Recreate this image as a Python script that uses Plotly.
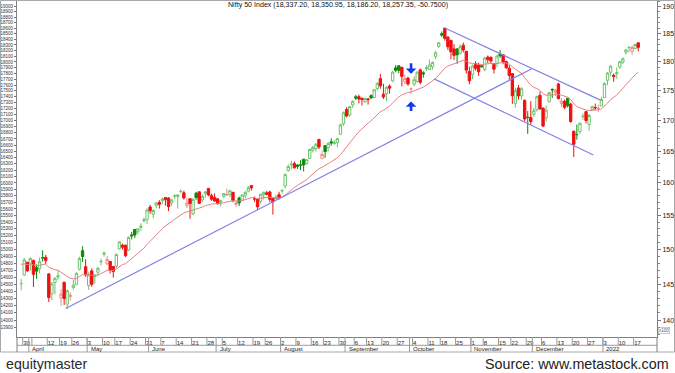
import numpy as np
import pandas as pd
import plotly.graph_objects as go

# ---------------- data ----------------
first_day = "2021-03-26"
last_day = "2022-01-18"
nse_holidays = ["2021-03-29", "2021-04-02", "2021-04-14", "2021-04-21", "2021-05-13",
                "2021-07-21", "2021-08-19", "2021-09-10", "2021-10-15", "2021-11-05",
                "2021-11-19"]

opens = [
    14506.3, 14628.5, 14811.85,
    14798.4, 14837.7, 14737.0, 14716.45, 14875.65, 14882.65, 14644.65, 14364.9, 14522.4, 14599.6,
    14306.6, 14526.95, 14219.15, 14326.8, 14449.45, 14493.8, 14710.5, 14979.0, 14747.35,
    14481.05, 14687.25, 14604.15, 14668.35, 14816.85, 14928.25, 14789.85, 14823.15, 14749.4, 14756.25,
    15005.8, 15058.6, 15058.6, 14987.8, 15211.35, 15291.75, 15257.1, 15323.95, 15421.2, 15437.75,
    15629.65, 15520.3, 15655.55, 15700.3, 15725.1, 15773.55, 15766.3, 15692.1, 15796.45, 15791.4, 15866.95,
    15847.5, 15648.3, 15756.5, 15525.85, 15840.65, 15862.8, 15737.75, 15839.35, 15915.35, 15807.5, 15776.9,
    15755.05, 15705.85, 15793.4, 15813.75, 15819.6, 15855.4, 15672.05, 15766.8, 15733.4, 15808.65, 15872.6,
    15958.75, 15754.5, 15746.45, 15716.95, 15819.7, 15846.7, 15860.35, 15761.5, 15762.75, 15817.05,
    15874.9, 15951.55, 16195.25, 16288.85, 16304.4, 16281.75, 16283.1, 16374.05, 16303.65, 16385.7, 16518.4,
    16545.25, 16691.95, 16382.5, 16592.25, 16561.4, 16654.0, 16627.95, 16642.55, 16775.85, 16947.5,
    17185.6, 17095.4, 17262.45, 17399.35, 17401.55, 17375.75, 17312.85, 17363.55, 17420.4, 17387.65, 17539.2,
    17709.65, 17443.85, 17450.5, 17580.9, 17670.85, 17897.45, 17932.2, 17906.45, 17657.95, 17718.9,
    17531.9, 17615.55, 17661.35, 17861.5, 17810.55, 17886.85, 17867.55, 17915.8, 18097.85, 18272.85,
    18500.1, 18602.35, 18439.9, 18382.7, 18230.3, 18229.5, 18154.5, 18295.85, 18187.65, 17833.55,
    17783.15, 17970.9, 17947.55, 17935.05, 17867.55, 18084.35, 18084.0, 17967.45, 17977.6, 18140.95,
    18127.05, 18007.05, 17890.55, 17796.25, 17281.75, 17550.05, 17417.3, 17338.75, 17055.8, 17051.15,
    17104.4, 17183.2, 17424.9, 17209.05, 17044.1, 17315.25, 17524.4, 17476.05, 17619.1, 17283.2, 17323.65,
    17374.75, 17276.0, 16824.25, 16773.15, 16819.1, 17066.8, 17149.5, 16937.75, 17177.6, 17220.1, 17201.45, 17244.5,
    17387.15, 17681.4, 17820.1, 17768.5, 17797.6, 17913.3, 17997.75, 18170.4, 18257.0, 18185.0, 18235.65, 18337.2,
]
highs = [
    14572.9, 14876.3, 14813.75,
    14883.2, 14849.85, 14779.1, 14879.8, 14984.15, 14918.45, 14652.5, 14528.9, 14597.55, 14697.7,
    14429.35, 14527.45, 14424.75, 14383.3, 14557.5, 14667.55, 14890.25, 15044.35, 14855.45,
    14673.85, 14723.4, 14637.9, 14743.9, 14863.05, 14966.9, 14900.6, 14824.05, 14749.65, 14938.2,
    15116.7, 15082.8, 15069.8, 15189.7, 15256.25, 15293.85, 15305.15, 15384.55, 15469.65, 15606.35,
    15660.75, 15597.45, 15705.1, 15733.6, 15773.45, 15778.8, 15778.6, 15751.3, 15823.05, 15823.6, 15901.6,
    15880.85, 15769.35, 15761.5, 15765.15, 15862.95, 15862.95, 15821.4, 15870.8, 15915.65, 15835.9, 15839.1,
    15755.55, 15738.35, 15845.95, 15914.2, 15893.55, 15855.4, 15729.3, 15789.25, 15820.8, 15877.35, 15952.35,
    15962.25, 15789.3, 15749.3, 15834.85, 15862.8, 15878.25, 15880.05, 15767.5, 15817.35, 15862.8,
    15892.9, 16146.9, 16290.2, 16349.45, 16336.75, 16296.75, 16359.25, 16375.5, 16375.9, 16543.6, 16589.4,
    16628.55, 16701.85, 16509.55, 16592.5, 16647.9, 16712.45, 16683.7, 16722.05, 16951.5, 17153.5,
    17225.75, 17245.5, 17340.1, 17429.55, 17436.5, 17383.25, 17379.65, 17378.35, 17438.55, 17532.7, 17644.6,
    17792.95, 17622.75, 17578.35, 17610.25, 17843.9, 17947.65, 17943.5, 17912.85, 17781.75, 17742.15,
    17557.15, 17750.9, 17833.45, 17884.6, 17838.9, 17941.85, 18041.95, 18008.65, 18197.8, 18350.75,
    18543.15, 18604.45, 18458.3, 18384.25, 18314.25, 18241.4, 18310.45, 18342.4, 18190.7, 17915.85,
    17954.1, 18012.25, 17988.75, 17947.4, 18087.8, 18112.6, 18092.0, 17971.35, 18123.0, 18210.15,
    18132.65, 18022.65, 17945.6, 17805.25, 17553.7, 17600.6, 17564.35, 17355.4, 17160.7, 17324.65,
    17213.05, 17420.35, 17489.8, 17216.75, 17251.65, 17484.6, 17543.25, 17534.35, 17639.5, 17376.2, 17351.7,
    17376.9, 17298.15, 16840.1, 16936.4, 16971.0, 17118.65, 17155.6, 17112.05, 17250.25, 17285.95, 17264.05, 17400.8,
    17646.65, 17827.6, 17944.7, 17797.95, 17905.0, 18017.45, 18081.0, 18227.95, 18272.25, 18286.95, 18321.55, 18350.95,
]
lows = [
    14414.25, 14617.6, 14670.25,
    14692.45, 14459.5, 14573.9, 14649.85, 14821.1, 14785.65, 14248.7, 14274.9, 14353.2, 14559.0,
    14191.4, 14207.3, 14151.4, 14273.3, 14421.3, 14484.85, 14694.95, 14814.45, 14601.7,
    14416.25, 14461.5, 14506.6, 14611.5, 14765.5, 14892.5, 14772.35, 14649.85, 14591.9, 14725.15,
    14998.15, 14992.65, 14884.9, 14973.65, 15145.5, 15163.4, 15221.35, 15272.5, 15394.75, 15374.0,
    15528.3, 15459.85, 15611.0, 15606.35, 15678.1, 15650.5, 15566.65, 15648.5, 15747.25, 15606.5, 15842.4,
    15742.6, 15616.75, 15450.9, 15505.65, 15739.5, 15673.95, 15702.7, 15772.3, 15792.15, 15724.05, 15708.75,
    15667.05, 15635.95, 15762.05, 15801.0, 15779.7, 15702.4, 15632.75, 15644.75, 15728.5, 15764.8, 15855.45,
    15882.6, 15707.45, 15578.7, 15679.15, 15744.85, 15809.5, 15701.25, 15513.45, 15737.5, 15744.5,
    15834.65, 15914.35, 16176.15, 16210.3, 16223.3, 16220.65, 16202.25, 16179.55, 16286.9, 16376.3, 16480.75,
    16495.4, 16535.85, 16376.85, 16395.7, 16495.3, 16589.4, 16603.4, 16565.45, 16764.85, 16915.85,
    17055.05, 17059.7, 17212.2, 17345.55, 17287.0, 17254.2, 17302.7, 17269.15, 17367.05, 17386.9, 17510.45,
    17537.65, 17361.8, 17326.1, 17452.75, 17646.55, 17819.4, 17802.9, 17576.1, 17608.15, 17585.35,
    17452.9, 17581.35, 17640.9, 17613.15, 17724.85, 17840.35, 17864.95, 17864.95, 18050.75, 18248.7,
    18445.3, 18377.7, 18209.35, 18048.15, 18034.35, 17968.5, 18131.7, 18167.65, 17799.45, 17613.1,
    17697.2, 17847.6, 17757.95, 17900.5, 17836.1, 17983.05, 17967.0, 17798.2, 17905.9, 18071.3,
    17958.8, 17879.25, 17688.5, 17280.45, 17216.1, 17354.0, 17351.7, 16985.7, 16782.4, 16931.4,
    17064.25, 17149.3, 17180.8, 16891.7, 16987.75, 17308.95, 17379.6, 17419.2, 17355.95, 17225.8, 17192.2,
    17219.45, 16966.45, 16410.2, 16688.25, 16779.85, 17015.55, 16954.45, 16833.2, 17161.15, 17176.65, 17146.35, 17238.5,
    17383.3, 17593.55, 17748.85, 17655.55, 17704.55, 17879.15, 17964.4, 18128.8, 18163.8, 18119.65, 18228.75, 18186.2,
]
closes = [
    14507.3, 14845.1, 14690.7,
    14867.35, 14637.8, 14683.5, 14819.05, 14873.8, 14834.85, 14310.8, 14504.8, 14581.45, 14617.85,
    14359.45, 14296.4, 14406.15, 14341.35, 14485.0, 14653.05, 14864.55, 14894.9, 14631.1,
    14634.15, 14496.5, 14617.85, 14724.8, 14823.15, 14942.35, 14850.75, 14696.5, 14677.8, 14923.15,
    15108.1, 15030.15, 14906.05, 15175.3, 15197.7, 15208.45, 15301.45, 15337.85, 15435.65, 15582.8,
    15574.85, 15576.2, 15690.35, 15670.25, 15751.65, 15740.1, 15635.35, 15737.75, 15799.35, 15811.85, 15869.25,
    15767.55, 15691.4, 15683.35, 15746.5, 15772.75, 15686.95, 15790.45, 15860.35, 15814.7, 15748.45, 15721.5,
    15680.0, 15722.2, 15834.35, 15818.25, 15879.65, 15727.9, 15689.8, 15692.6, 15812.35, 15853.95, 15924.2,
    15923.4, 15752.4, 15632.1, 15824.05, 15856.05, 15824.45, 15746.45, 15709.4, 15778.45, 15763.05,
    15885.15, 16130.75, 16258.8, 16294.6, 16238.2, 16258.25, 16280.1, 16282.25, 16364.4, 16529.1, 16563.05,
    16614.6, 16568.85, 16450.5, 16496.45, 16624.6, 16634.65, 16636.9, 16705.2, 16931.05, 17132.2,
    17076.25, 17234.15, 17323.6, 17377.8, 17362.1, 17353.5, 17369.25, 17355.3, 17380.0, 17519.45, 17629.5,
    17585.15, 17396.9, 17562.0, 17546.65, 17822.95, 17853.2, 17855.1, 17748.6, 17711.3, 17618.15,
    17532.05, 17691.25, 17822.3, 17646.0, 17790.35, 17895.2, 17945.95, 17991.95, 18161.75, 18338.55,
    18477.05, 18418.75, 18266.6, 18178.1, 18114.9, 18125.4, 18268.4, 18210.95, 17857.25, 17671.65,
    17929.65, 17888.95, 17829.2, 17916.8, 18068.55, 18044.25, 18017.2, 17873.6, 18102.75, 18109.45,
    17999.2, 17898.65, 17764.8, 17416.55, 17503.35, 17415.05, 17536.25, 17026.45, 17053.95, 16983.2,
    17166.9, 17401.65, 17196.7, 16912.25, 17176.7, 17469.75, 17516.85, 17511.3, 17368.25, 17324.9, 17221.4,
    17248.4, 16985.2, 16614.2, 16770.85, 16955.45, 17072.6, 17003.75, 17086.25, 17233.25, 17213.6, 17203.95, 17354.05,
    17625.7, 17805.25, 17925.25, 17745.9, 17812.7, 18003.3, 18055.75, 18212.35, 18257.8, 18255.75, 18308.1, 18257.35,
]
# closes before the first candle (only used to start the moving average)
warmup_closes = [15106.5, 15173.3, 15163.3, 15314.7, 15313.45, 15208.9, 15118.95, 14981.75, 14675.7,
                 14707.8, 14982.0, 15097.35, 14529.15, 14761.55, 14919.1, 15245.6, 15080.75, 14938.1,
                 14956.2, 15098.4, 15174.8, 15030.95, 14929.5, 14910.45, 14721.3, 14557.85, 14744.0,
                 14736.4, 14814.75, 14549.4, 14324.9]
ma_period = 20

title_text = "Nifty 50 Index (18,337.20, 18,350.95, 18,186.20, 18,257.35, -50.7500)"
left_ticks = list(range(13900, 19001, 100))
right_ticks = list(range(140, 191, 5))
right_minor = list(range(138, 192, 1))
hidden_week_labels = ["2021-04-05"]

# hand-drawn trend lines: (day positions, prices)
trend_lines = [
    ([13.5, 165.3], [14160, 17880]),
    ([137.0, 187.5], [18604, 17347]),
    ([133.5, 185.4], [17706, 16441]),
]
signal_arrows = [("2021-10-01", 17794, "down"), ("2021-10-01", 17320, "up")]

# ---------------- derived ----------------
days = pd.bdate_range(first_day, last_day)
days = days[~days.isin(pd.to_datetime(nse_holidays))]
n = len(days)
assert n == len(opens) == len(highs) == len(lows) == len(closes), (n, len(opens), len(highs), len(lows), len(closes))
xs = np.arange(n) - 1  # Mar 26 sits one slot left of the first week divider
pos_of = {d.strftime("%Y-%m-%d"): x for d, x in zip(days, xs)}

all_closes = pd.Series(warmup_closes + closes)
ma = all_closes.ewm(span=ma_period, adjust=False).mean().iloc[len(warmup_closes):].to_numpy()
prev_close = [warmup_closes[-1]] + closes[:-1]

week_starts, week_labels, month_starts, month_labels = [], [], [], []
for i in range(1, n):
    d, p = days[i], days[i - 1]
    if d.isocalendar()[1] != p.isocalendar()[1]:
        week_starts.append(xs[i])
        week_labels.append("" if d.strftime("%Y-%m-%d") in hidden_week_labels else str(d.day))
    if d.month != p.month:
        month_starts.append(xs[i])
        month_labels.append(str(d.year) if d.month == 1 else d.strftime("%B"))

# ---------------- geometry ----------------
W, H = 675, 373
ML, MR, MT, MB = 17, 18, 1, 36
PW, PH = W - ML - MR, H - MT - MB
slot = 3.07
x_lo = (ML - 24.235) / slot
x_hi = (W - MR - 24.235) / slot
y_lo, y_hi = 13772.0, 19100.0


def pxx(px):
    return (px - ML) / PW


def pxy(py):
    return (H - MB - py) / PH


GREEN_L = "#6cc46c"
GREEN_D = "#0a8a0a"
RED_F = "#f01010"
RED_L = "#f08a8a"
LINE_C = "#8282e6"
MA_C = "#e88080"
GRID_C = "#9a9a9a"
FONT = "Liberation Sans, Arial, sans-serif"

fig = go.Figure()

up = [c >= pc for c, pc in zip(closes, prev_close)]
for is_up in (True, False):
    idx = [i for i in range(n) if up[i] == is_up]
    if is_up:
        inc = dict(line=dict(color=GREEN_L, width=1), fillcolor="white")
        dec = dict(line=dict(color=GREEN_D, width=1), fillcolor=GREEN_D)
    else:
        inc = dict(line=dict(color=RED_L, width=1), fillcolor="white")
        dec = dict(line=dict(color=RED_F, width=1), fillcolor=RED_F)
    fig.add_trace(go.Candlestick(
        x=[xs[i] for i in idx], open=[opens[i] for i in idx], high=[highs[i] for i in idx],
        low=[lows[i] for i in idx], close=[closes[i] for i in idx],
        increasing=inc, decreasing=dec, whiskerwidth=0, hoverinfo="skip", showlegend=False))

fig.add_trace(go.Scatter(x=xs, y=ma, mode="lines", line=dict(color=MA_C, width=1),
                         hoverinfo="skip", showlegend=False))

for lx, ly in trend_lines:
    fig.add_trace(go.Scatter(x=lx, y=ly, mode="lines", line=dict(color=LINE_C, width=1.2),
                             hoverinfo="skip", showlegend=False))

# invisible trace so the right-hand (x100) axis is drawn
fig.add_trace(go.Scatter(x=[x_lo], y=[150], yaxis="y2", mode="markers",
                         marker=dict(opacity=0), hoverinfo="skip", showlegend=False))

shapes = []
# outer frame
shapes.append(dict(type="rect", xref="paper", yref="paper", x0=pxx(0.5), x1=pxx(674.5),
                   y0=pxy(352), y1=pxy(0.5), line=dict(color="#a8a8a8", width=1)))
# band lines
shapes.append(dict(type="line", xref="paper", yref="paper", x0=0, x1=1, y0=pxy(345.3), y1=pxy(345.3),
                   line=dict(color=GRID_C, width=1)))
for xp in (0, 1):
    shapes.append(dict(type="line", xref="paper", yref="paper", x0=xp, x1=xp, y0=pxy(352), y1=0,
                       line=dict(color="#808080", width=1)))
for w in week_starts:
    shapes.append(dict(type="line", xref="x", yref="paper", x0=w - 0.5, x1=w - 0.5, y0=0, y1=pxy(345.3),
                       line=dict(color=GRID_C, width=1)))
for m in month_starts:
    shapes.append(dict(type="line", xref="x", yref="paper", x0=m - 0.5, x1=m - 0.5, y0=0, y1=pxy(352),
                       line=dict(color=GRID_C, width=1)))

annotations = []
annotations.append(dict(text=title_text, xref="paper", yref="paper", x=pxx(337.5), y=pxy(5.5),
                        xanchor="center", yanchor="middle", showarrow=False,
                        font=dict(size=7.1, color="#111", family=FONT)))
for m, lab in zip(month_starts, month_labels):
    annotations.append(dict(text=lab, xref="x", yref="paper", x=m - 0.5, y=pxy(348.8), xshift=1.5,
                            xanchor="left", yanchor="middle", showarrow=False,
                            font=dict(size=6, color="#222", family=FONT)))
annotations.append(dict(text="x100", xref="paper", yref="paper", x=pxx(664), y=pxy(330.5),
                        xanchor="center", yanchor="middle", showarrow=False,
                        bordercolor="#999", borderwidth=0.5, borderpad=0.5,
                        font=dict(size=4.5, color="#555", family=FONT)))
annotations.append(dict(text="equitymaster", xref="paper", yref="paper", x=pxx(4), y=pxy(364),
                        xanchor="left", yanchor="middle", showarrow=False,
                        font=dict(size=14.2, color="#2a2a2a", family=FONT)))
annotations.append(dict(text="Source: www.metastock.com", xref="paper", yref="paper", x=pxx(671), y=pxy(364),
                        xanchor="right", yanchor="middle", showarrow=False,
                        font=dict(size=14.3, color="#222", family=FONT)))
for dstr, price, direction in signal_arrows:
    annotations.append(dict(x=pos_of[dstr], y=np.log10(price), xref="x", yref="y", text="",
                            showarrow=True, ax=0, ay=(-12 if direction == "down" else 11),
                            arrowhead=1, arrowsize=0.68, arrowwidth=2.6, arrowcolor="#1238f0",
                            standoff=0, startstandoff=0))

fig.update_layout(
    width=W, height=H, margin=dict(l=ML, r=MR, t=MT, b=MB, pad=0),
    paper_bgcolor="white", plot_bgcolor="white", showlegend=False,
    font=dict(family=FONT, color="#222"),
    boxgap=0.15, boxgroupgap=0.1,
    shapes=shapes, annotations=annotations,
    xaxis=dict(range=[x_lo, x_hi], showgrid=False, zeroline=False, showline=True,
               linecolor="#808080", linewidth=1, rangeslider=dict(visible=False),
               tickmode="array", tickvals=[w - 0.5 for w in week_starts], ticktext=week_labels,
               ticks="", ticklabelposition="outside right", tickangle=0,
               tickfont=dict(size=6, color="#222", family=FONT)),
    yaxis=dict(type="log", range=[np.log10(y_lo), np.log10(y_hi)], showgrid=False, zeroline=False,
               showline=True, linecolor="#808080", linewidth=1,
               tickmode="array", tickvals=left_ticks, ticktext=[str(v) for v in left_ticks],
               ticks="outside", ticklen=2, tickcolor="#777",
               tickfont=dict(size=4.5, color="#333", family=FONT)),
    yaxis2=dict(type="log", overlaying="y", side="right", anchor="x",
                range=[np.log10(y_lo / 100), np.log10(y_hi / 100)], showgrid=False, zeroline=False,
                showline=True, linecolor="#808080", linewidth=1,
                tickmode="array", tickvals=right_ticks, ticktext=[str(v) for v in right_ticks],
                ticks="outside", ticklen=3, tickcolor="#777",
                minor=dict(tickvals=right_minor, ticks="outside", ticklen=1.5, tickcolor="#888"),
                tickfont=dict(size=7, color="#222", family=FONT)),
)

fig.write_html("out.html", config={"displayModeBar": False},
               post_script="document.body.style.margin='0px';document.body.style.overflow='hidden';")
